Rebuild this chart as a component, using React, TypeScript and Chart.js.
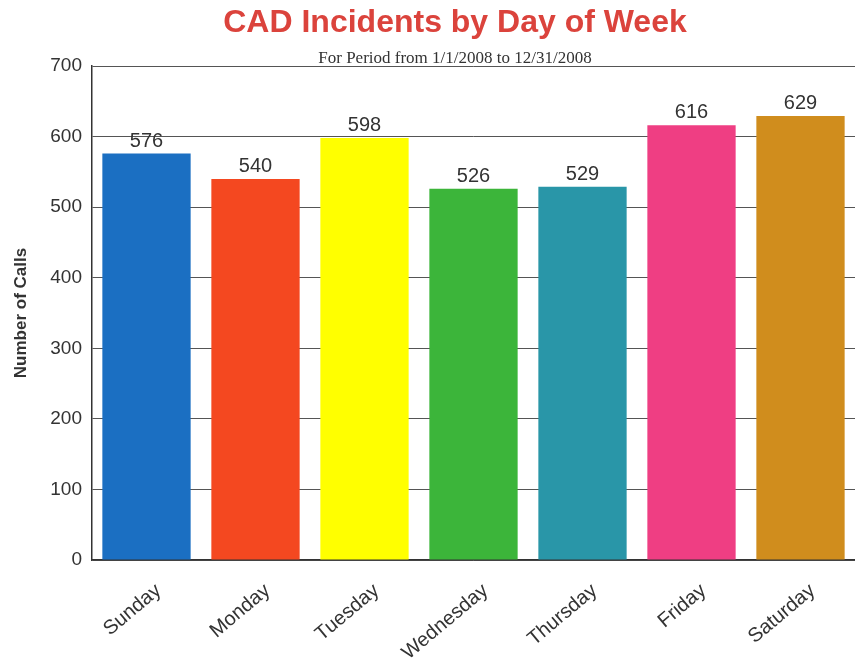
import React, { useEffect, useRef } from "react";
import { Chart, registerables } from "chart.js";

Chart.register(...registerables);

const days = ["Sunday", "Monday", "Tuesday", "Wednesday", "Thursday", "Friday", "Saturday"];
const calls = [576, 540, 598, 526, 529, 616, 629];
const barColors = ["#1b6fc2", "#f44820", "#ffff00", "#3cb53a", "#2996a8", "#ef3e83", "#d08d1d"];
const titleText = "CAD Incidents by Day of Week";
const subtitleText = "For Period from 1/1/2008 to 12/31/2008";
const yAxisTitle = "Number of Calls";

const SANS = "'Liberation Sans', Arial, sans-serif";

const titlesPlugin = {
  id: "titlesPlugin",
  afterDraw(chart: any) {
    const ctx = chart.ctx;
    ctx.save();
    ctx.textAlign = "center";
    ctx.textBaseline = "alphabetic";
    ctx.fillStyle = "#db433c";
    ctx.font = `bold 32px ${SANS}`;
    ctx.fillText(titleText, 455, 32);
    ctx.fillStyle = "#333333";
    ctx.font = `17px 'Liberation Serif', 'Times New Roman', serif`;
    ctx.fillText(subtitleText, 455, 63);
    ctx.restore();
  },
};

const valueLabels = {
  id: "valueLabels",
  afterDatasetsDraw(chart: any) {
    const ctx = chart.ctx;
    const meta = chart.getDatasetMeta(0);
    ctx.save();
    ctx.textAlign = "center";
    ctx.textBaseline = "alphabetic";
    ctx.fillStyle = "#333333";
    ctx.font = `20px ${SANS}`;
    meta.data.forEach((bar: any, i: number) => {
      ctx.fillText(String(calls[i]), bar.x, bar.y - 7);
    });
    ctx.restore();
  },
};

export default function App() {
  const ref = useRef<HTMLCanvasElement | null>(null);
  useEffect(() => {
    if (!ref.current) return;
    const chart = new Chart(ref.current, {
      type: "bar",
      data: {
        labels: days,
        datasets: [
          {
            data: calls,
            backgroundColor: barColors,
            borderWidth: 0,
            barPercentage: 1,
            categoryPercentage: 0.81,
          },
        ],
      },
      options: {
        animation: false,
        responsive: true,
        maintainAspectRatio: false,
        layout: { padding: { top: 66, left: 0, right: 0, bottom: 0 } },
        plugins: {
          legend: { display: false },
          title: { display: false },
          tooltip: { enabled: false },
        },
        scales: {
          x: {
            grid: { display: false },
            border: { display: true, color: "#333333", width: 1.5 },
            ticks: {
              autoSkip: false,
              minRotation: 40,
              maxRotation: 40,
              labelOffset: 12,
              padding: 11,
              color: "#333333",
              font: { family: SANS, size: 20 },
            },
            afterFit: (scale: any) => {
              scale.height = 107;
            },
          },
          y: {
            min: 0,
            max: 700,
            ticks: {
              stepSize: 100,
              padding: 10,
              color: "#333333",
              font: { family: SANS, size: 19 },
            },
            grid: { color: "#555555", lineWidth: 1, drawTicks: false },
            border: { display: true, color: "#333333", width: 1.5 },
            title: {
              display: true,
              text: yAxisTitle,
              color: "#333333",
              font: { family: SANS, size: 17, weight: "bold" },
              padding: { top: 11, bottom: 0 },
            },
            afterFit: (scale: any) => {
              scale.width = 92;
            },
          },
        },
      },
      plugins: [titlesPlugin, valueLabels],
    });
    return () => chart.destroy();
  }, []);
  return (
    <div style={{ position: "fixed", left: 0, top: 0, width: 855, height: 667, background: "#ffffff" }}>
      <canvas ref={ref} />
    </div>
  );
}
